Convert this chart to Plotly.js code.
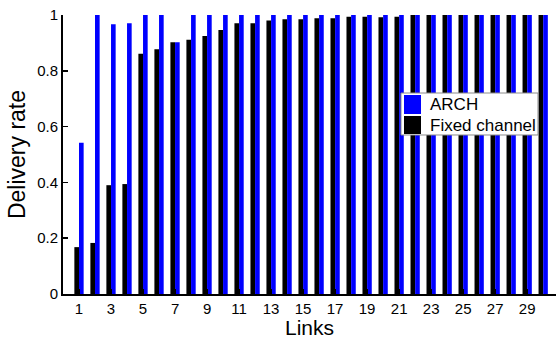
<!DOCTYPE html>
<html>
<head>
<meta charset="utf-8">
<script src="https://cdn.plot.ly/plotly-3.0.1.min.js"></script>
<style>
  html, body { margin: 0; padding: 0; background: #fff; }
  #chart { width: 556px; height: 339px; }
</style>
</head>
<body>
<div id="chart"></div>
<script>
// Link indices 1..30
const links = Array.from({length: 30}, (_, i) => i + 1);

// Delivery rate per link with a fixed channel assignment
const fixedChannel = [
  0.168, 0.183, 0.390, 0.394, 0.861, 0.877, 0.902, 0.911, 0.925, 0.946,
  0.970, 0.970, 0.980, 0.985, 0.985, 0.988, 0.988, 0.994, 0.994, 0.992,
  0.994, 1.000, 1.000, 1.000, 1.000, 1.000, 1.000, 1.000, 1.000, 1.000
];

// Delivery rate per link with ARCH
const arch = [
  0.542, 1.000, 0.967, 0.970, 1.000, 1.000, 0.902, 1.000, 1.000, 1.000,
  1.000, 1.000, 1.000, 1.000, 1.000, 1.000, 1.000, 1.000, 1.000, 1.000,
  1.000, 1.000, 1.000, 1.000, 1.000, 1.000, 1.000, 1.000, 1.000, 1.000
];

const seriesNames = ['ARCH', 'Fixed channel'];
const xTicks = [1, 3, 5, 7, 9, 11, 13, 15, 17, 19, 21, 23, 25, 27, 29];
const yTicks = [0, 0.2, 0.4, 0.6, 0.8, 1];
const yTickText = ['0', '0.2', '0.4', '0.6', '0.8', '1'];

const font = 'Liberation Sans, Arial, sans-serif';
const colArch = '#0000ff';
const colFixed = '#000000';

const traces = [
  {
    type: 'bar', name: seriesNames[1], x: links, y: fixedChannel,
    marker: { color: colFixed, line: { width: 0 } }
  },
  {
    type: 'bar', name: seriesNames[0], x: links, y: arch,
    marker: { color: colArch, line: { width: 0 } }
  }
];

// Boxed legend inside the plot area (paper coordinates)
const legBox = { x0: 0.6856, x1: 0.9635, y0: 0.5699, y1: 0.7204 };
const swatches = [
  { y0: 0.6452, y1: 0.7133, color: colArch, label: seriesNames[0], ty: 0.681 },
  { y0: 0.5735, y1: 0.6380, color: colFixed, label: seriesNames[1], ty: 0.6057 }
];

const shapes = [
  {
    type: 'rect', xref: 'paper', yref: 'paper', layer: 'above',
    x0: legBox.x0, x1: legBox.x1, y0: legBox.y0, y1: legBox.y1,
    fillcolor: '#ffffff', line: { color: '#8c8c8c', width: 1 }
  }
].concat(swatches.map(s => ({
  type: 'rect', xref: 'paper', yref: 'paper', layer: 'above',
  x0: 0.6917, x1: 0.7262, y0: s.y0, y1: s.y1,
  fillcolor: s.color, line: { width: 0 }
})));

const annotations = swatches.map(s => ({
  xref: 'paper', yref: 'paper', x: 0.7404, y: s.ty,
  xanchor: 'left', yanchor: 'middle', showarrow: false,
  text: s.label, font: { family: font, size: 17, color: '#000' }
}));

const layout = {
  width: 556, height: 339,
  margin: { l: 63, r: 0, t: 15, b: 45 },
  paper_bgcolor: '#ffffff', plot_bgcolor: '#ffffff',
  barmode: 'group', bargap: 0.42, bargroupgap: 0,
  font: { family: font, color: '#000', size: 15 },
  showlegend: false,
  shapes: shapes,
  annotations: annotations,
  xaxis: {
    range: [0, 30.8], tickvals: xTicks, ticktext: xTicks.map(String),
    ticks: 'inside', ticklen: 5, tickwidth: 1.5, tickcolor: '#000',
    showline: true, linewidth: 2, linecolor: '#000',
    showgrid: false, zeroline: false,
    tickfont: { family: font, size: 15 },
    title: { text: 'Links', font: { family: font, size: 21 }, standoff: 3 }
  },
  yaxis: {
    range: [0, 1], tickvals: yTicks, ticktext: yTickText,
    ticks: 'inside', ticklen: 5, tickwidth: 1.5, tickcolor: '#000',
    showline: true, linewidth: 2, linecolor: '#000',
    showgrid: false, zeroline: false,
    tickfont: { family: font, size: 15 },
    title: { text: 'Delivery rate', font: { family: font, size: 23 }, standoff: 5 }
  }
};

Plotly.newPlot('chart', traces, layout, { displayModeBar: false, staticPlot: true });
</script>
</body>
</html>
